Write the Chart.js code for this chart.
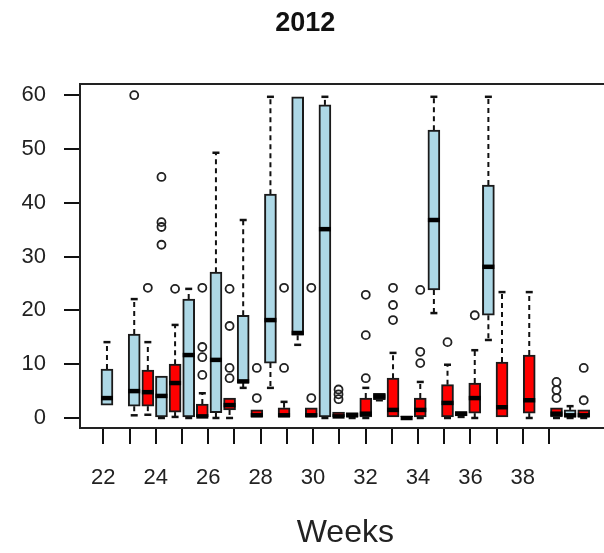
<!DOCTYPE html>
<html>
<head>
<meta charset="utf-8">
<script src="https://cdn.jsdelivr.net/npm/chart.js@4.4.0/dist/chart.umd.min.js"></script>
<style>
  html, body { margin: 0; padding: 0; background: #fff; overflow: hidden; width: 604px; height: 553px; }
  canvas { display: block; }
</style>
</head>
<body>
<canvas id="boxChart" width="620" height="553"></canvas>
<script>
const weeks = [22, 23, 24, 25, 26, 27, 28, 29, 30, 31, 32, 33, 34, 35, 36, 37, 38, 39];
const tickLabels = ['22', '', '24', '', '26', '', '28', '', '30', '', '32', '', '34', '', '36', '', '38', ''];
const yTicks = [0, 10, 20, 30, 40, 50, 60];

// [min, q1, median, q3, max] per week, null = no box
const blueStats = [
  [2.4, 2.4, 3.7, 9.1, 14.1],
  [0.5, 2.2, 5.0, 15.6, 22.1],
  [0, 0.2, 4.1, 7.8, 7.8],
  [0, 0.2, 11.7, 22.1, 24.0],
  [0, 1.0, 10.8, 27.1, 49.3],
  [5.6, 6.5, 6.8, 19.1, 36.8],
  [5.6, 10.2, 18.2, 41.6, 59.7],
  [13.6, 15.4, 15.8, 59.7, 59.7],
  [0, 0.2, 35.1, 58.2, 59.7],
  [0, 0.2, 0.5, 1.0, 1.0],
  [3.3, 3.4, 4.0, 4.6, 4.6],
  [0, 0, 0, 0.3, 0.3],
  [19.5, 23.8, 36.8, 53.5, 59.7],
  [0.2, 0.4, 0.8, 1.2, 1.2],
  [14.5, 19.1, 28.1, 43.3, 59.7],
  null,
  null,
  [0, 0.2, 0.5, 1.5, 2.2]
];
const redStats = [
  null,
  [0.6, 2.2, 4.8, 8.9, 14.1],
  [0.2, 1.1, 6.5, 10.0, 17.3],
  [0, 0, 0.3, 2.6, 4.6],
  [0, 1.5, 2.4, 3.7, 3.7],
  [0, 0, 0.5, 1.5, 1.5],
  [0, 0, 0.5, 1.9, 3.0],
  [0, 0, 0.5, 1.9, 1.9],
  [0, 0, 0.3, 1.1, 1.1],
  [0, 0.2, 0.8, 3.7, 5.6],
  [0, 0, 1.5, 7.4, 12.1],
  [0, 0.2, 1.5, 3.7, 6.7],
  [0, 0.2, 2.8, 6.2, 9.9],
  [0, 0.9, 3.7, 6.5, 12.6],
  [0, 0, 2.0, 10.4, 23.4],
  [0, 0.9, 3.3, 11.7, 23.4],
  [0, 0.2, 0.8, 1.9, 1.9],
  [0, 0.2, 0.5, 1.5, 1.5]
];
const blueOutliers = [
  [], [60], [32.2, 35.5, 36.4, 44.8], [], [], [], [], [], [], [], [], [], [], [], [], [], [], []
];
const redOutliers = [
  [], [24.2], [24.0], [8.0, 11.3, 13.2, 24.2], [7.4, 9.3, 17.1, 24.0], [3.7, 9.3], [9.3, 24.2],
  [3.7, 24.2], [3.5, 4.4, 5.3], [7.4, 15.4, 22.9], [18.2, 21.0, 24.2], [10.2, 12.3, 23.8],
  [14.1], [19.1], [], [], [3.7, 5.2, 6.7], [3.3, 9.3]
];

// each week has two slots on the x scale: blue then red
const TICK0 = -0.27, TICK_STEP = 1.925;
const FONT = "'Liberation Sans', Arial, sans-serif";

function boxData(stats, shift) {
  const out = [];
  stats.forEach((s, i) => { if (s) out.push({ x: 2 * i + shift, y: [s[1], s[3]] }); });
  return out;
}
function outlierData() {
  const out = [];
  blueOutliers.forEach((list, i) => list.forEach(v => out.push({ x: 2 * i, y: v })));
  redOutliers.forEach((list, i) => list.forEach(v => out.push({ x: 2 * i + 1, y: v })));
  return out;
}
function eachBox(fn) {
  blueStats.forEach((s, i) => { if (s) fn(2 * i, s); });
  redStats.forEach((s, i) => { if (s) fn(2 * i + 1, s); });
}

const boxParts = {
  id: 'boxParts',
  beforeDatasetsDraw(chart) {
    const { ctx, chartArea: a, scales: { x, y } } = chart;
    ctx.save();
    ctx.strokeStyle = '#222';
    ctx.lineWidth = 2;
    ctx.strokeRect(a.left, a.top, a.right - a.left, a.bottom - a.top);
    ctx.strokeStyle = '#111';
    const seg = (x1, y1, x2, y2) => { ctx.beginPath(); ctx.moveTo(x1, y1); ctx.lineTo(x2, y2); ctx.stroke(); };
    eachBox((slot, s) => {
      const px = x.getPixelForValue(slot);
      ctx.setLineDash([5, 4]);
      ctx.lineWidth = 2;
      if (s[4] > s[3]) seg(px, y.getPixelForValue(s[3]), px, y.getPixelForValue(s[4]));
      if (s[0] < s[1]) seg(px, y.getPixelForValue(s[1]), px, y.getPixelForValue(s[0]));
      ctx.setLineDash([]);
      ctx.lineWidth = 2.5;
      if (s[4] > s[3]) seg(px - 3.5, y.getPixelForValue(s[4]), px + 3.5, y.getPixelForValue(s[4]));
      if (s[0] < s[1]) seg(px - 3.5, y.getPixelForValue(s[0]), px + 3.5, y.getPixelForValue(s[0]));
    });
    ctx.restore();
  },
  afterDatasetDraw(chart, args) {
    if (args.index !== 1) return;
    const { ctx, scales: { x, y } } = chart;
    ctx.save();
    ctx.strokeStyle = '#000';
    ctx.lineWidth = 4.5;
    eachBox((slot, s) => {
      const px = x.getPixelForValue(slot);
      const py = y.getPixelForValue(s[2]);
      ctx.beginPath(); ctx.moveTo(px - 6, py); ctx.lineTo(px + 6, py); ctx.stroke();
    });
    ctx.restore();
  }
};

new Chart(document.getElementById('boxChart'), {
  type: 'bar',
  data: {
    datasets: [
      { label: 'blue', data: boxData(blueStats, 0), backgroundColor: '#add8e6', borderColor: '#1a1a1a',
        borderWidth: 2, borderSkipped: false, barThickness: 12, grouped: false, order: 3 },
      { label: 'red', data: boxData(redStats, 1), backgroundColor: '#ff0000', borderColor: '#1a1a1a',
        borderWidth: 2, borderSkipped: false, barThickness: 12, grouped: false, order: 2 },
      { type: 'scatter', label: 'outliers', data: outlierData(), pointRadius: 4, pointBorderWidth: 1.8,
        borderColor: '#222', backgroundColor: 'rgba(0,0,0,0)', order: 1 }
    ]
  },
  options: {
    responsive: false,
    animation: false,
    devicePixelRatio: 1,
    layout: { padding: { left: 0, right: 9.3, top: 0, bottom: 0 } },
    plugins: {
      legend: { display: false },
      tooltip: { enabled: false },
      title: { display: true, text: '2012', color: '#111',
        font: { family: FONT, size: 27, weight: 'bold', lineHeight: 1.2 },
        padding: { top: 7.8, bottom: 43.8 } }
    },
    scales: {
      x: {
        type: 'linear', min: -1.98, max: 36.98, offset: false,
        grid: { offset: false, drawOnChartArea: false, drawTicks: true, tickLength: 16, color: '#111', lineWidth: 2 },
        border: { display: false },
        afterBuildTicks: s => { s.ticks = weeks.map((w, j) => ({ value: TICK0 + j * TICK_STEP })); },
        afterFit: s => { s.height = 125; },
        ticks: { autoSkip: false, maxRotation: 0, padding: 21, color: '#222',
          font: { family: FONT, size: 22 }, callback: (v, i) => tickLabels[i] },
        title: { display: true, text: 'Weeks', color: '#222', font: { family: FONT, size: 32 },
          padding: { top: 0, bottom: 1 } }
      },
      y: {
        type: 'linear', min: -1.86, max: 62.08,
        grid: { drawOnChartArea: false, drawTicks: true, tickLength: 16, color: '#111', lineWidth: 2 },
        border: { display: false },
        afterBuildTicks: s => { s.ticks = yTicks.map(v => ({ value: v })); },
        afterFit: s => { s.width = 80; },
        ticks: { padding: 18, color: '#222', font: { family: FONT, size: 22 } }
      }
    }
  },
  plugins: [boxParts]
});
</script>
</body>
</html>
